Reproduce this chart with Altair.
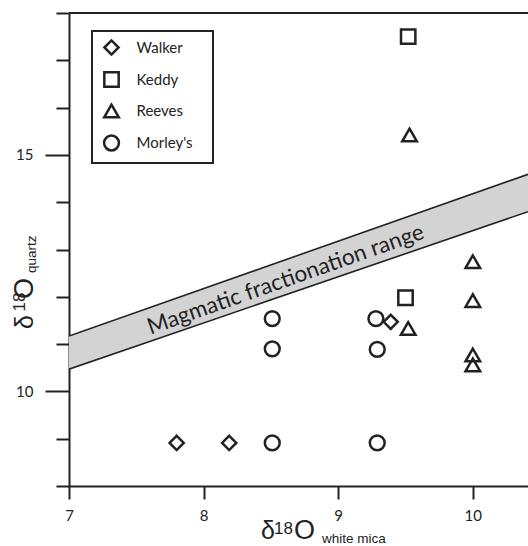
import altair as alt
import pandas as pd

# ---- data ----
series_order = ["Walker", "Keddy", "Reeves", "Morley's"]
series_shapes = ["diamond", "square", "triangle-up", "circle"]
series_sizes = [200, 220, 380, 290]

walker_x = [7.80, 8.19, 9.39]
walker_y = [8.91, 8.91, 11.47]
keddy_x = [9.52, 9.50]
keddy_y = [17.50, 11.98]
reeves_x = [9.53, 9.52, 10.0, 10.0, 10.0, 10.0]
reeves_y = [15.42, 11.33, 12.74, 11.92, 10.77, 10.56]
morley_x = [8.51, 9.29, 8.51, 8.51, 9.28, 9.29]
morley_y = [8.91, 8.91, 11.54, 10.90, 11.54, 10.89]

band_x = [7.0, 10.41]
band_upper = [11.17, 14.59]
band_lower = [10.47, 13.80]

band_label = ["Magmatic fractionation range"]
band_label_x = [8.61]
band_label_y = [12.36]

x_ticks = [7, 8, 9, 10]
y_ticks = [8, 9, 10, 11, 12, 13, 14, 15, 16, 17, 18]

# ---- tables ----
rows = []
for name, xs, ys in [("Walker", walker_x, walker_y), ("Keddy", keddy_x, keddy_y),
                     ("Reeves", reeves_x, reeves_y), ("Morley's", morley_x, morley_y)]:
    for a, b in zip(xs, ys):
        rows.append({"x": a, "y": b, "series": name})
points = pd.DataFrame(rows)
band = pd.DataFrame({"x": band_x, "upper": band_upper, "lower": band_lower})
label_df = pd.DataFrame({"x": band_label_x, "y": band_label_y, "t": band_label})
one = pd.DataFrame({"a": [0]})

W, H = 459, 473
INK = "#222222"
FONT = "Lato"
TFONT = "Liberation Sans"

xscale = alt.Scale(domain=[7, 10.41], nice=False, zero=False)
yscale = alt.Scale(domain=[8, 18], nice=False, zero=False)

xaxis = alt.Axis(values=x_ticks, title=None, grid=False, domainColor=INK, domainWidth=2,
                 tickColor=INK, tickWidth=2, tickSize=13, labelFont=FONT, labelFontSize=15,
                 labelColor=INK, labelPadding=9, labelFlush=False)
yaxis = alt.Axis(values=y_ticks, title=None, grid=False, domainColor=INK, domainWidth=2,
                 tickColor=INK, tickWidth=2,
                 tickSize={"condition": {"test": "datum.value % 5 === 0", "value": 24}, "value": 13},
                 labelExpr="datum.value % 5 === 0 ? datum.label : ''",
                 labelFont=FONT, labelFontSize=15, labelColor=INK, labelPadding=12)

area = alt.Chart(band).mark_area(color="#d3d3d3", clip=True).encode(
    x=alt.X("x:Q", scale=xscale, axis=xaxis),
    y=alt.Y("upper:Q", scale=yscale, axis=yaxis),
    y2="lower:Q",
)
upper_line = alt.Chart(band).mark_line(color=INK, strokeWidth=1.6, clip=True).encode(
    x=alt.X("x:Q", scale=xscale, axis=xaxis),
    y=alt.Y("upper:Q", scale=yscale, axis=yaxis),
)
lower_line = alt.Chart(band).mark_line(color=INK, strokeWidth=1.6, clip=True).encode(
    x=alt.X("x:Q", scale=xscale, axis=xaxis),
    y=alt.Y("lower:Q", scale=yscale, axis=yaxis),
)
band_text = alt.Chart(label_df).mark_text(font=FONT, fontSize=22.5, angle=340.6, color=INK,
                                          align="center", baseline="middle").encode(
    x=alt.X("x:Q", scale=xscale, axis=xaxis),
    y=alt.Y("y:Q", scale=yscale, axis=yaxis),
    text="t:N",
)

legend_box = alt.Chart(one).mark_rect(fill="white", stroke=INK, strokeWidth=2).encode(
    x=alt.value(23), x2=alt.value(144), y=alt.value(18), y2=alt.value(150)
)

legend = alt.Legend(title=None, orient="none", legendX=33.5, legendY=26, padding=0,
                    labelFont=FONT, labelFontSize=15, labelColor=INK, labelOffset=16,
                    rowPadding=7, symbolStrokeColor=INK, symbolStrokeWidth=2.5,
                    symbolFillColor="white")

pts = alt.Chart(points).mark_point(filled=False, strokeWidth=2.5, color=INK, opacity=1).encode(
    x=alt.X("x:Q", scale=xscale, axis=xaxis),
    y=alt.Y("y:Q", scale=yscale, axis=yaxis),
    shape=alt.Shape("series:N", scale=alt.Scale(domain=series_order, range=series_shapes), legend=legend),
    size=alt.Size("series:N", scale=alt.Scale(domain=series_order, range=series_sizes), legend=legend),
)

top_rule = alt.Chart(one).mark_rule(color=INK, strokeWidth=2).encode(
    x=alt.value(0), x2=alt.value(W), y=alt.value(0)
)

def piece(txt, x, y, size, angle=0):
    kw = dict(text=txt, font=TFONT, fontSize=size, color=INK, align="left", baseline="alphabetic")
    if angle:
        kw["angle"] = angle
    return alt.Chart(one).mark_text(**kw).encode(x=alt.value(x), y=alt.value(y))

titles = [
    piece("δ", 192, 526, 25), piece("18", 205, 521, 17), piece("O", 225, 526, 27),
    piece("white mica", 253, 530, 13.5),
    piece("δ", -36.5, 316, 25, 270), piece("18", -44, 298.5, 17, 270),
    piece("O", -36.5, 286, 27, 270), piece("quartz", -33.5, 260, 13.5, 270),
]

chart = alt.layer(area, upper_line, lower_line, band_text, legend_box, pts, top_rule, *titles).properties(
    width=W, height=H, autosize="none",
    padding={"left": 69, "top": 13, "right": 0, "bottom": 60},
).configure_view(stroke=None).configure(background="white")

chart.save("out.html", embed_options={"renderer": "svg", "actions": False})
